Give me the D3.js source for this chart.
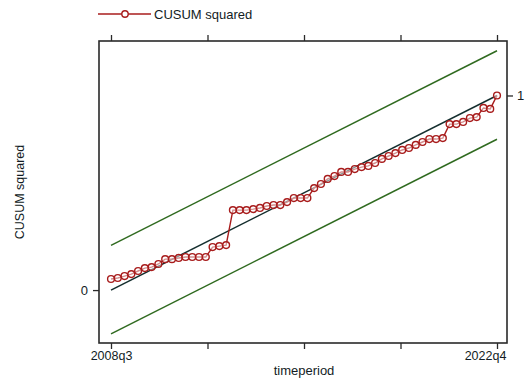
<!DOCTYPE html>
<html>
<head>
<meta charset="utf-8">
<script src="https://cdn.jsdelivr.net/npm/d3@7"></script>
<style>
  html, body { margin: 0; padding: 0; background: #fff; }
  svg { display: block; font-family: "Liberation Sans", Arial, sans-serif; }
</style>
</head>
<body>
<div id="chart"></div>
<script>
// CUSUM of squares, 2008q3 .. 2022q4 (58 quarters)
const firstPeriod = '2008q3';
const lastPeriod = '2022q4';
const nPeriods = 58;

const cusumSq = [
  0.057, 0.062, 0.072, 0.082, 0.098, 0.113, 0.118, 0.134, 0.159, 0.159,
  0.165, 0.170, 0.170, 0.170, 0.170, 0.221, 0.226, 0.231, 0.411, 0.411,
  0.411, 0.416, 0.422, 0.432, 0.437, 0.437, 0.452, 0.473, 0.473, 0.473,
  0.524, 0.545, 0.571, 0.586, 0.607, 0.607, 0.622, 0.632, 0.638, 0.653,
  0.674, 0.689, 0.704, 0.720, 0.730, 0.746, 0.761, 0.776, 0.776, 0.781,
  0.853, 0.853, 0.864, 0.884, 0.889, 0.936, 0.931, 1.000,
];

// straight reference lines: [value at first period, value at last period]
const expected = [0, 1];
const upperBound = [0.23, 1.23];
const lowerBound = [-0.225, 0.775];

const xTicks = [0, 14.25, 28.5, 42.75, 57];
const xTickLabels = { 0: firstPeriod, 57: lastPeriod };
const yLeftTicks = [0];
const yRightTicks = [1];

const width = 526, height = 382;
const box = { left: 99, right: 507, top: 41, bottom: 343 };

const red = '#a81c1c';
const green = '#2f6a1f';
const ink = '#121c24';

const svg = d3.select('#chart').append('svg')
  .attr('width', width)
  .attr('height', height);

const x = d3.scaleLinear().domain([0, nPeriods - 1]).range([111, 497]);
const y = d3.scaleLinear().domain([-0.272, 1.28]).range([box.bottom, box.top]);

// frame
svg.append('rect')
  .attr('x', box.left).attr('y', box.top)
  .attr('width', box.right - box.left).attr('height', box.bottom - box.top)
  .attr('fill', 'none').attr('stroke', '#2a2a2a').attr('stroke-width', 1.6);

const styleAxis = (g) => {
  g.select('.domain').remove();
  g.selectAll('.tick line').attr('stroke', '#2a2a2a').attr('stroke-width', 1.3);
  g.selectAll('.tick text').attr('fill', ink).style('font-size', '12.5px');
};

svg.append('g')
  .attr('transform', `translate(0,${box.bottom})`)
  .call(d3.axisBottom(x).tickValues(xTicks).tickSize(6).tickPadding(2)
    .tickFormat((d) => xTickLabels[d] || ''))
  .call(styleAxis)
  .call((g) => g.selectAll('.tick text').filter((d) => d === 57).attr('dx', -12));

svg.append('g')
  .attr('transform', `translate(0,${box.top})`)
  .call(d3.axisTop(x).tickValues(xTicks).tickSize(6).tickFormat(''))
  .call(styleAxis);

svg.append('g')
  .attr('transform', `translate(${box.left},0)`)
  .call(d3.axisLeft(y).tickValues(yLeftTicks).tickSize(6).tickPadding(5).tickFormat(d3.format('d')))
  .call(styleAxis)
  .call((g) => g.selectAll('.tick text').style('font-size', '13px'));

svg.append('g')
  .attr('transform', `translate(${box.right},0)`)
  .call(d3.axisRight(y).tickValues(yRightTicks).tickSize(6).tickPadding(4).tickFormat(d3.format('d')))
  .call(styleAxis)
  .call((g) => g.selectAll('.tick text').style('font-size', '13px'));

// axis titles
svg.append('text')
  .attr('x', 304).attr('y', 375)
  .attr('text-anchor', 'middle')
  .attr('fill', ink).style('font-size', '13px')
  .text('timeperiod');

svg.append('text')
  .attr('transform', `translate(24,${(box.top + box.bottom) / 2}) rotate(-90)`)
  .attr('text-anchor', 'middle')
  .attr('fill', ink).style('font-size', '12.5px')
  .text('CUSUM squared');

// reference lines
const refLine = (vals, color) => {
  svg.append('line')
    .attr('x1', x(0)).attr('y1', y(vals[0]))
    .attr('x2', x(nPeriods - 1)).attr('y2', y(vals[1]))
    .attr('stroke', color).attr('stroke-width', 1.5);
};
refLine(upperBound, green);
refLine(lowerBound, green);
refLine(expected, '#142e2e');

// cusum squared series
const line = d3.line().x((d, i) => x(i)).y((d) => y(d));
svg.append('path')
  .datum(cusumSq)
  .attr('d', line)
  .attr('fill', 'none')
  .attr('stroke', red)
  .attr('stroke-width', 1.4);

svg.append('g')
  .selectAll('circle')
  .data(cusumSq)
  .join('circle')
  .attr('cx', (d, i) => x(i))
  .attr('cy', (d) => y(d))
  .attr('r', 3.4)
  .attr('fill', '#fff')
  .attr('fill-opacity', 0.5)
  .attr('stroke', red)
  .attr('stroke-width', 1.4);

// legend
const lg = svg.append('g').attr('transform', 'translate(98,14)');
lg.append('line').attr('x1', 0).attr('x2', 53).attr('y1', 0).attr('y2', 0)
  .attr('stroke', red).attr('stroke-width', 1.4);
lg.append('circle').attr('cx', 27).attr('cy', 0).attr('r', 3.2)
  .attr('fill', '#fff').attr('stroke', red).attr('stroke-width', 1.4);
lg.append('text').attr('x', 56).attr('y', 5)
  .attr('fill', ink).style('font-size', '13px')
  .text('CUSUM squared');
</script>
</body>
</html>
